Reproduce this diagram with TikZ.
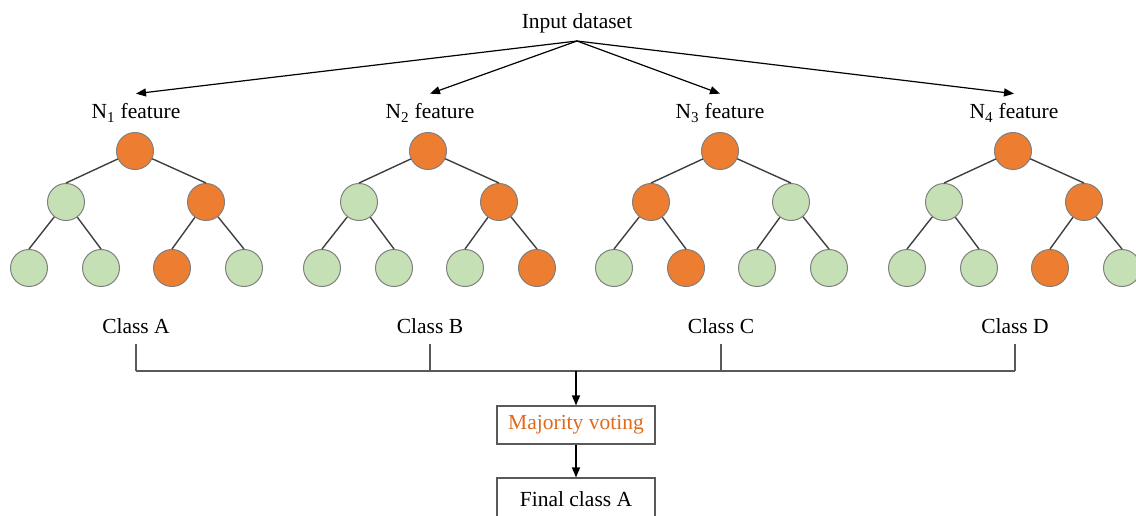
\documentclass[tikz,border=0pt]{standalone}
\usepackage{fontspec}
\setmainfont{Liberation Serif}
\usetikzlibrary{arrows.meta}
\definecolor{O}{HTML}{ED7D31}
\definecolor{G}{HTML}{C5E0B4}
\definecolor{votetext}{HTML}{E06A1A}
\definecolor{edgegray}{HTML}{3F3F3F}
\definecolor{rimgray}{HTML}{808080}
\definecolor{bargray}{HTML}{595959}
\tikzset{
  nd/.style={circle,draw=rimgray,line width=1pt,minimum size=37pt,inner sep=0pt},
  tedge/.style={draw=edgegray,line width=1.4pt},
  txt/.style={font=\fontsize{21.5}{24}\selectfont,inner sep=0pt,text=black},
  feat/.style={txt,anchor=base,inner ysep=10pt},
  cls/.style={txt,anchor=base,inner ysep=11pt},
  bar/.style={draw=bargray,line width=1.2pt},
  arr/.style={draw=black,line width=1.2pt,-{Triangle[length=10pt,width=8pt]}},
  boxn/.style={draw=bargray,line width=1.2pt,minimum width=158pt,font=\fontsize{21.5}{24}\selectfont,inner sep=0pt}
}
\begin{document}
\begin{tikzpicture}[x=1pt,y=-1pt]
\useasboundingbox (0,0) rectangle (1136,516);
% source
\node[txt,anchor=base] (inp) at (577,29) {Input dataset};
\coordinate (src) at (577,41);
% feature labels
\node[feat] (f1) at (136,119) {N\textsubscript{1} feature};
\node[feat] (f2) at (430,119) {N\textsubscript{2} feature};
\node[feat] (f3) at (720,119) {N\textsubscript{3} feature};
\node[feat] (f4) at (1014,119) {N\textsubscript{4} feature};
\foreach \i in {1,2,3,4}{\draw[arr] (src) -- (f\i.north);}
% trees
\foreach \t/\x/\a/\b/\c/\d/\e/\f in {1/135/G/O/G/G/O/G, 2/428/G/O/G/G/G/O, 3/720/O/G/G/O/G/G, 4/1013/G/O/G/G/O/G}{
  \node[nd,fill=O] (r\t) at (\x,151) {};
  \node[nd,fill=\a] (l\t) at (\x-69,202) {};
  \node[nd,fill=\b] (m\t) at (\x+71,202) {};
  \node[nd,fill=\c] (a\t) at (\x-106,268) {};
  \node[nd,fill=\d] (b\t) at (\x-34,268) {};
  \node[nd,fill=\e] (c\t) at (\x+37,268) {};
  \node[nd,fill=\f] (d\t) at (\x+109,268) {};
  \draw[tedge] (r\t) -- (l\t.north);
  \draw[tedge] (r\t) -- (m\t.north);
  \draw[tedge] (l\t) -- (a\t.north);
  \draw[tedge] (l\t) -- (b\t.north);
  \draw[tedge] (m\t) -- (c\t.north);
  \draw[tedge] (m\t) -- (d\t.north);
}
% classes
\node[cls] (cA) at (136,333) {Class A};
\node[cls] (cB) at (430,333) {Class B};
\node[cls] (cC) at (721,333) {Class C};
\node[cls] (cD) at (1015,333) {Class D};
\coordinate (hb) at (576,371);
\foreach \c in {A,B,C,D}{\draw[bar] (c\c.south) -- (c\c.south |- hb);}
\draw[bar] (cA.south |- hb) -- (cD.south |- hb);
% boxes
\node[boxn,minimum height=38pt,text=votetext] (mv) at (576,425) {Majority voting};
\node[boxn,minimum height=42pt] (fc) at (576,499) {Final class A};
\draw[arr] (hb) -- (mv.north);
\draw[arr] (mv.south) -- (fc.north);
\end{tikzpicture}
\end{document}
